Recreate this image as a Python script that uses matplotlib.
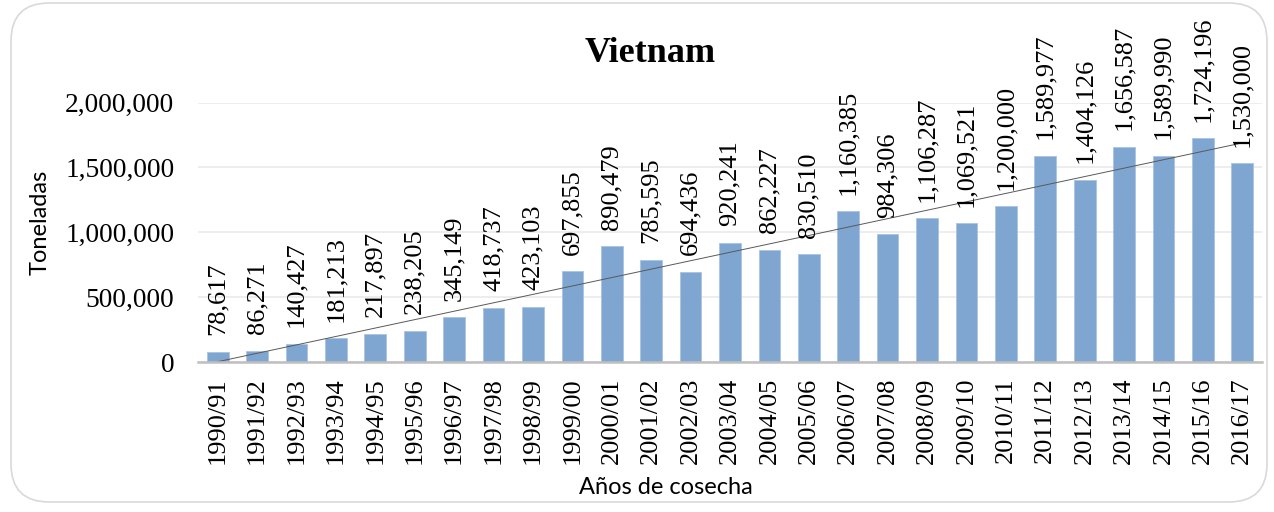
import matplotlib
matplotlib.use("Agg")
import matplotlib.pyplot as plt
import numpy as np
from matplotlib.patches import FancyBboxPatch
from matplotlib.ticker import FuncFormatter

categories = ["1990/91", "1991/92", "1992/93", "1993/94", "1994/95", "1995/96",
              "1996/97", "1997/98", "1998/99", "1999/00", "2000/01", "2001/02",
              "2002/03", "2003/04", "2004/05", "2005/06", "2006/07", "2007/08",
              "2008/09", "2009/10", "2010/11", "2011/12", "2012/13", "2013/14",
              "2014/15", "2015/16", "2016/17"]
values = [78617, 86271, 140427, 181213, 217897, 238205, 345149, 418737, 423103,
          697855, 890479, 785595, 694436, 920241, 862227, 830510, 1160385,
          984306, 1106287, 1069521, 1200000, 1589977, 1404126, 1656587,
          1589990, 1724196, 1530000]
yticks = [0, 500000, 1000000, 1500000, 2000000]

W, H = 1274, 512
fig = plt.figure(figsize=(W / 100, H / 100), dpi=100)
fig.patch.set_facecolor("white")

# rounded chart border
border = FancyBboxPatch((11 / W, 10 / H), (1267 - 11) / W, (509 - 10) / H,
                        boxstyle="round,pad=0,rounding_size=0.03",
                        transform=fig.transFigure, facecolor="none",
                        edgecolor="#D9D9D9", linewidth=1.2,
                        mutation_aspect=W / H)
fig.patches.append(border)

ax = fig.add_axes([198 / W, 1 - 362 / H, (1262 - 198) / W, (362 - 102.5) / H])
ax.set_facecolor("none")

x = np.arange(len(categories))
ax.bar(x, values, width=0.55, color="#7FA6D1", edgecolor="#A9C3E3",
       linewidth=0.6, zorder=2)

# linear trendline
coef = np.polyfit(x + 1, values, 1)
xt = np.array([x[0], x[-1]])
ax.plot(xt, np.polyval(coef, xt + 1), color="#595959", linewidth=0.7,
        zorder=3, clip_on=False)

serif = "Liberation Serif"
sans = "Lato"

for xi, v in zip(x, values):
    ax.annotate(f"{v:,}", (xi, v), xytext=(0, 12), textcoords="offset points",
                rotation=90, ha="center", va="bottom", fontsize=19,
                family=serif, color="black", clip_on=False, zorder=4)

ax.set_xlim(-0.5, len(categories) - 0.5)
ax.set_ylim(0, 2000000)
ax.set_yticks(yticks)
ax.yaxis.set_major_formatter(FuncFormatter(lambda v, p: f"{int(v):,}"))
ax.set_xticks(x)
ax.set_xticklabels(categories, rotation=90, va="top", ha="center")
for lab in ax.get_xticklabels():
    lab.set_fontfamily(serif)
    lab.set_fontsize(19)
for lab in ax.get_yticklabels():
    lab.set_fontfamily(serif)
    lab.set_fontsize(19.7)
ax.tick_params(axis="y", length=0, pad=17)
ax.tick_params(axis="x", length=0, pad=11)

ax.grid(axis="y", color="#EAEAEA", linewidth=1.2, zorder=0)
ax.set_axisbelow(True)
for s in ["top", "right", "left"]:
    ax.spines[s].set_visible(False)
ax.spines["bottom"].set_color("#BFBFBF")
ax.spines["bottom"].set_linewidth(1.8)
ax.spines["bottom"].set_zorder(3)

fig.text(650 / W, 1 - 54 / H, "Vietnam", ha="center", va="center",
         fontsize=26, fontweight="bold", family=serif)
fig.text(40 / W, 1 - 222 / H, "Toneladas", ha="center", va="center",
         rotation=90, fontsize=17, family=sans)
fig.text(666 / W, 1 - 487 / H, "Años de cosecha", ha="center", va="center",
         fontsize=17, family=sans)

fig.savefig("out.png", dpi=100)
